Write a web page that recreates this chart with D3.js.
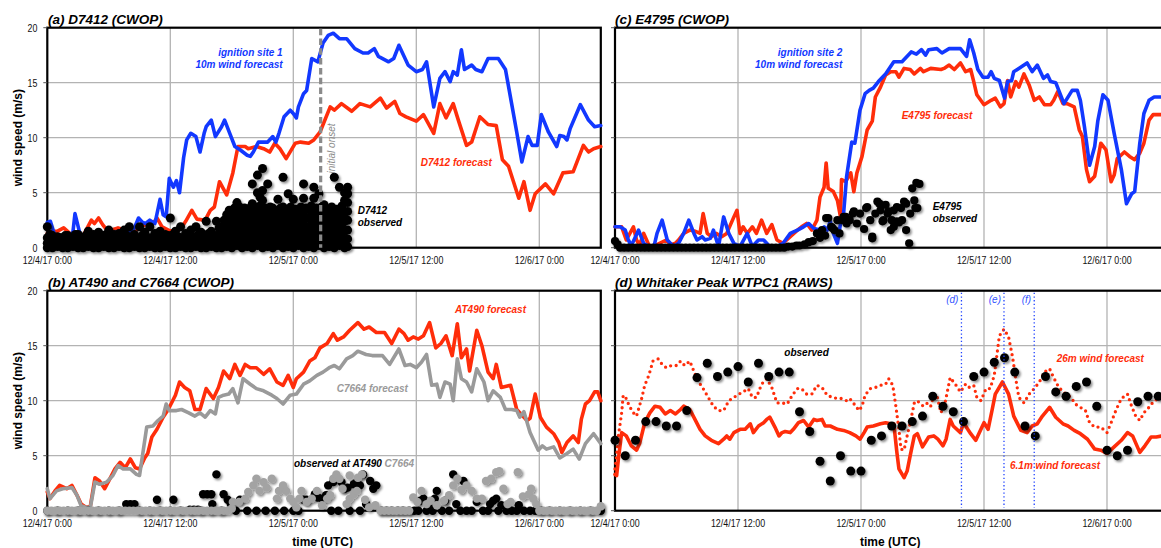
<!DOCTYPE html>
<html>
<head>
<meta charset="utf-8">
<script src="https://cdn.jsdelivr.net/npm/d3@7"></script>
<style>
  html, body { margin: 0; padding: 0; background: #fff; }
  svg { display: block; }
  text { font-family: "Liberation Sans", Arial, sans-serif; }
</style>
</head>
<body>
<svg id="chart" width="1161" height="548"></svg>
<script>
// ---------------- data ----------------
// time axis: hours after 12/4/17 0:00 UTC; speeds in m/s
const tickHours = [0, 12, 24, 36, 48];
const tickLabels = ["12/4/17 0:00", "12/4/17 12:00", "12/5/17 0:00", "12/5/17 12:00", "12/6/17 0:00"];
const speedTicks = [0, 5, 10, 15, 20];

// (a) ignition site 1, 10 m wind forecast
const ign1Forecast = [[0,2.3],[0.3,2.4],[0.8,0.9],[1.3,1.0],[2,1.0],[2.5,1.4],[2.7,3.1],[3.2,1.2],[4,1.0],[5,1.0],[6,1.1],[6.6,1.4],[7.5,1.2],[8.5,1.8],[8.9,2.7],[9.3,2.3],[9.6,2.2],[10,2.5],[10.5,2.2],[11,4.4],[11.3,3.0],[11.6,2.8],[11.9,6.3],[12.3,5.5],[12.6,6.1],[12.9,5.0],[13.3,8.2],[13.6,9.8],[14,10.4],[14.5,10.1],[14.9,8.7],[15.3,10.4],[15.5,11.0],[16,11.6],[16.4,10.1],[17,11.0],[17.3,11.6],[17.8,10.4],[18.3,9.2],[18.8,8.9],[19.5,8.4],[19.8,8.3],[20.1,8.7],[20.6,9.6],[21.5,9.6],[22,10.1],[22.3,9.6],[22.6,10.4],[23.1,11.9],[23.7,12.5],[24,12.2],[24.3,11.8],[24.5,12.8],[25,14.0],[25.3,14.3],[25.8,17.2],[26.4,16.9],[26.9,18.6],[27.4,19.3],[27.9,19.5],[28.5,19.0],[29.2,19.0],[30,18.1],[30.8,17.7],[31.3,17.7],[31.9,18.1],[32.3,17.4],[33.3,16.9],[33.8,17.2],[34.3,18.4],[35.2,16.6],[36,16.0],[36.6,16.2],[37,16.9],[37.7,12.8],[38.3,15.4],[38.8,16.0],[39.3,15.1],[39.6,16.0],[40,15.7],[40.4,18.0],[40.7,16.2],[41.4,16.6],[41.8,16.2],[42.4,16.0],[43,17.2],[44,17.2],[44.7,16.2],[45.3,13.1],[45.8,10.5],[46.3,7.8],[46.9,10.1],[47.3,9.3],[47.8,9.3],[48.2,12.1],[48.9,10.5],[49.7,9.2],[50,10.2],[50.4,10.1],[50.7,9.8],[51,10.8],[52,13.0],[52.8,11.6],[53.4,11.0],[54,11.1]];

// (a) D7412 forecast
const d7412Forecast = [[0,1.3],[0.5,1.5],[1,1.5],[1.6,1.8],[2.2,1.3],[2.8,1.0],[3.5,1.1],[4.3,2.5],[4.6,2.2],[5,2.7],[5.4,2.1],[5.9,1.5],[6.9,1.8],[8,1.5],[9,1.7],[9.5,2.1],[10.3,2.2],[10.7,2.7],[11.2,1.9],[12,1.5],[13,1.7],[13.5,2.4],[14.1,3.4],[14.6,2.6],[15.4,2.5],[15.9,3.4],[16.3,3.7],[16.8,6.0],[17.5,4.8],[18.1,6.8],[18.6,9.2],[19.3,9.2],[19.6,9.0],[20.4,9.2],[21.1,9.0],[21.7,8.7],[22.2,9.5],[22.7,9.0],[23.3,8.1],[24.2,9.5],[24.7,9.6],[25.5,9.5],[26,9.8],[26.6,10.5],[27.6,12.8],[28,12.5],[28.7,13.1],[29.7,12.4],[30.5,13.1],[31.5,12.8],[32.5,13.6],[33.1,12.7],[33.9,13.3],[34.4,12.2],[35,11.9],[36,11.5],[36.7,12.1],[37.7,10.4],[38.3,13.1],[38.9,11.8],[39.6,13.1],[40.1,11.6],[40.9,9.3],[41.4,9.6],[42.2,11.9],[43,11.2],[43.8,11.1],[44.4,8.0],[45,7.4],[46,4.5],[46.5,6.0],[47.1,3.4],[47.6,4.9],[48.6,5.8],[49.4,4.9],[50.3,6.8],[51.3,6.9],[52.3,9.3],[52.8,8.7],[53.3,9.0],[54,9.2]];

// (a) D7412 observations, grouped by report time: [hour, speeds]
const d7412Obs = [
  [0,[0,0.4,0.9,1.9]],[0.25,[0.2,0.7,1.2]],[0.5,[0,0.5,1.1]],[0.75,[0.3,0.8]],[1,[0.1,0.6,1.0]],[1.25,[0.2,0.9]],[1.5,[0,0.4,0.9]],[1.75,[0.3,1.1]],
  [2,[0,0.5,1.1]],[2.25,[0.2,0.8]],[2.5,[0.1,0.7,1.0]],[2.75,[0.3,1.2]],[3,[0,0.4,1.2]],[3.25,[0.2,0.8]],[3.5,[0,0.6,0.9]],[3.75,[0.3,1.1]],
  [4,[0.1,0.5,1.5]],[4.25,[0.2,0.9]],[4.5,[0,0.7,1.2]],[4.75,[0.3,1.0]],[5,[0,0.4,1.4]],[5.25,[0.2,0.9]],[5.5,[0.1,0.8,1.1]],[5.75,[0.3,1.2]],
  [6,[0,0.5,1.6]],[6.25,[0.2,0.9]],[6.5,[0,0.6,1.2]],[6.75,[0.3,1.0]],[7,[0.1,0.9,1.3]],[7.25,[0.2,0.7]],[7.5,[0,0.5,1.6]],[7.75,[0.3,1.1]],
  [8,[0,0.7,1.9]],[8.25,[0.2,1.0]],[8.5,[0.1,0.6,1.2]],[8.75,[0.3,0.9]],[9,[0,0.8,1.9]],[9.25,[0.2,1.1]],[9.5,[0,0.5,1.4]],[9.75,[0.3,0.9]],
  [10,[0.1,0.9,1.9]],[10.25,[0.2,0.7]],[10.5,[0,0.6,1.3]],[10.75,[0.3,1.0]],[11,[0,0.7,1.5]],[11.25,[0.2,0.9]],[11.5,[0.1,0.5,1.2]],[11.75,[0.3,1.1]],
  [12,[0,0.8,2.7]],[12.25,[0.2,1.2]],[12.5,[0,0.6,1.5]],[12.75,[0.3,1.0]],[13,[0.1,0.9,1.9]],[13.25,[0.2,0.7]],[13.5,[0,0.5,1.3]],[13.75,[0.3,1.1]],
  [14,[0,0.7,1.6]],[14.25,[0.2,1.0]],[14.5,[0.1,0.6,1.9]],[14.75,[0.3,1.2]],[15,[0,0.8,1.4]],[15.25,[0.2,1.0]],[15.5,[0,0.5,2.4]],[15.75,[0.3,1.3]],
  [16,[0.1,0.9,1.5]],[16.25,[0.2,1.1]],[16.5,[0,0.7,2.4]],[16.75,[0.3,1.2,1.8]],[17,[0,0.6,1.3,1.9]],[17.25,[0.3,1.0,1.7,2.5]],
  [17.5,[0.1,0.7,1.4,2.2,3.0]],[17.75,[0.4,1.1,1.9,2.7,3.4]],[18,[0,0.8,1.6,2.4,3.4]],[18.25,[0.3,1.2,2.0,2.8,3.6]],
  [18.5,[0.2,0.9,1.7,2.6,3.3,4.1]],[18.75,[0.4,1.3,2.1,2.9,3.7]],[19,[0,0.6,1.4,2.2,3.0,3.5]],[19.25,[0.3,1.1,1.9,2.7,3.6]],
  [19.5,[0.1,0.8,1.5,2.3,3.2]],[19.75,[0.4,1.2,2.0,2.8,3.6]],[20,[0,0.7,1.6,2.5,3.3,4.0,5.8]],[20.25,[0.3,1.1,1.9,2.9,3.7]],
  [20.5,[0.2,1.0,1.8,2.6,3.4,5.0,6.6]],[20.75,[0.4,1.3,2.2,3.0,3.8,4.6]],[21,[0,0.6,1.5,2.3,3.1,4.3,5.2,7.2]],[21.25,[0.3,1.1,1.9,2.7,3.6]],
  [21.5,[0.1,0.9,1.7,2.5,3.5,5.8]],[21.75,[0.4,1.2,2.0,2.9,3.7]],[22,[0,0.7,1.4,2.2,3.0,3.6]],[22.25,[0.3,1.1,1.8,2.6,3.4]],
  [22.5,[0.2,0.8,1.6,2.4,3.3,4.4]],[22.75,[0.4,1.2,2.0,2.8,3.6]],[23,[0,0.6,1.5,2.3,3.1,3.7,6.4]],[23.25,[0.3,1.0,1.9,2.7,3.5]],
  [23.5,[0.1,0.9,1.7,2.6,3.4,4.9]],[23.75,[0.4,1.3,2.1,2.9,3.7]],[24,[0,0.7,1.4,2.3,3.0,4.4]],[24.25,[0.3,1.1,1.9,2.7,3.5]],
  [24.5,[0.2,0.8,1.6,2.5,3.3]],[24.75,[0.4,1.2,2.0,2.9,3.7]],[25,[0,0.6,1.5,2.2,3.2,4.5,5.8]],[25.25,[0.3,1.0,1.8,2.7,3.6]],
  [25.5,[0.1,1.0,1.8,2.7,3.5]],[25.75,[0.4,1.3,2.1,2.9,3.8]],[26,[0,0.7,1.4,2.3,3.1,4.5,5.5]],[26.25,[0.3,1.1,1.9,2.7,3.6]],
  [26.5,[0.2,0.9,1.6,2.5,3.4,4.9]],[26.75,[0.4,1.2,2.0,2.9,3.7]],[27,[0,0.6,1.5,2.4,3.2,3.9]],[27.25,[0.3,1.1,1.9,2.7,3.5]],
  [27.5,[0.1,0.8,1.7,2.6,3.4]],[27.75,[0.4,1.2,2.1,2.9,3.7]],[28,[0,0.7,1.4,2.2,3.0,6.4]],[28.25,[0.3,1.1,1.9,2.7,3.5]],
  [28.5,[0.2,0.9,1.6,2.5,3.3,5.5]],[28.75,[0.4,1.3,2.1,2.9,3.8]],[29,[0,0.6,1.5,2.4,3.2,4.3,5.0]],
  [29.3,[0.1,0.8,1.6,2.5,3.3,4.1,4.9,5.5]]
];
const onsetHour = 26.67;

// (b) AT490 and C7664 forecasts
const at490Forecast = [[0,1.7],[0.26,1.1],[0.75,1.8],[1.2,2.3],[1.9,2.0],[2.4,2.3],[2.9,1.4],[3.3,0.6],[3.8,0.3],[4.2,0.4],[4.65,3.0],[5.1,2.7],[5.6,2.0],[6.1,2.9],[6.6,3.8],[7.1,4.4],[7.6,3.9],[8.1,4.7],[8.6,3.9],[9,3.8],[9.5,4.8],[9.8,5.2],[10.2,6.7],[10.7,7.4],[11.3,8.5],[11.8,9.2],[12.5,10.5],[12.9,11.7],[13.4,11.2],[13.9,10.9],[14.4,9.2],[14.9,9.2],[15.5,11.1],[16.2,10.2],[16.7,11.2],[17.2,12.7],[17.8,12.0],[18.3,13.3],[18.8,12.3],[19.3,13.3],[19.8,13.0],[20.4,13.0],[21.1,12.4],[21.7,12.9],[22.4,11.7],[23,11.4],[23.5,12.3],[24,11.2],[24.3,12.0],[25,12.6],[25.6,13.6],[26.1,13.9],[26.6,14.8],[27.3,15.2],[27.9,16.1],[28.3,15.5],[28.9,15.8],[29.5,16.4],[30.3,17.1],[30.9,16.5],[31.4,16.7],[32.1,16.2],[32.9,16.2],[33.6,15.2],[34.3,16.5],[34.8,16.1],[35.2,15.5],[35.7,15.8],[36.2,15.6],[36.7,15.9],[37.3,17.1],[37.9,14.8],[38.4,15.2],[38.9,15.9],[39.5,14.1],[40,17.0],[40.4,13.9],[40.9,14.7],[41.2,12.7],[41.9,16.4],[42.4,15.0],[43,12.6],[43.5,12.0],[43.8,13.3],[44.3,11.2],[45.2,11.4],[45.8,9.2],[46.5,8.5],[46.8,8.2],[47.1,8.4],[47.6,10.6],[48.1,8.5],[48.7,7.6],[49.4,7.0],[49.9,6.2],[50.2,5.3],[50.7,6.2],[51.3,6.8],[51.8,6.2],[52.1,8.3],[52.5,9.7],[52.9,10.0],[53.4,10.8],[53.7,10.8],[54,10.0]];
const c7664Forecast = [[0,2.0],[0.26,1.1],[0.9,1.8],[1.5,2.0],[2.4,2.1],[2.9,1.4],[3.3,0.45],[3.8,0.3],[4.2,0.3],[4.65,2.6],[5.1,2.4],[5.8,2.6],[6.4,3.2],[6.9,4.1],[7.4,3.8],[8.1,3.8],[8.7,3.3],[9,3.2],[9.7,7.6],[10.3,7.7],[10.8,8.2],[11.3,8.6],[11.6,9.7],[11.9,9.1],[12.6,9.1],[13.1,9.2],[13.8,8.9],[14.4,8.6],[14.9,8.9],[15.4,8.5],[15.9,9.1],[16.4,8.8],[16.7,10.3],[17.2,10.5],[17.7,10.6],[18.1,11.1],[18.6,9.8],[19.1,12.0],[19.8,11.5],[20.4,11.1],[21.1,10.9],[21.9,10.5],[22.4,10.2],[23,9.7],[23.7,10.5],[24.3,10.6],[25,11.5],[25.6,11.8],[26.3,12.3],[26.9,12.6],[27.5,13.0],[28,13.2],[28.5,12.9],[29.2,13.8],[29.8,14.1],[30.3,14.5],[31.1,14.2],[31.7,14.1],[32.7,14.1],[33.4,13.3],[34.3,14.7],[34.9,13.2],[35.4,13.3],[36,13.0],[36.5,13.5],[37,14.2],[37.5,11.4],[38,11.5],[38.3,10.3],[38.8,11.7],[39.3,11.5],[39.6,10.0],[40,13.8],[40.4,12.0],[40.9,11.7],[41.4,10.8],[41.9,12.9],[42.6,11.7],[43,10.0],[43.5,10.9],[44.2,10.3],[44.7,9.2],[45.3,9.2],[45.8,9.1],[46.1,8.5],[46.5,9.0],[47.1,7.1],[47.4,6.5],[47.9,5.5],[48.3,5.9],[48.7,5.6],[49.4,5.8],[50,4.8],[50.7,5.2],[51.3,5.6],[51.9,4.7],[52.5,6.1],[53.3,7.0],[54,6.1]];

// (b) observations at AT490 (black) and C7664 (gray): [hour, speed]
const at490Obs = [[0,0],[1,0],[2,0],[3,0],[4,0],[5,0],[6,0],[7,0],[9,0],[10,0],[11,0],[12,0],[13,0],[14,0],[15,0],[16,0],[17,0],
  [7.7,0.6],[8.1,0.6],[8.5,0.6],[10.7,1.0],[12.3,1.0],[13.9,0.1],[14.3,0.1],[14.7,0.1],[15.2,1.5],[15.6,1.5],[16.0,1.5],[16.5,3.3],[16.1,0.6],[17.2,1.5],[17.6,1.0],[17.9,0.6],[18.8,1.0],
  [18.4,0],[19.5,0],[20.4,0],[21.3,0],[22.2,0],[23.1,0],[24.0,0],[24.5,0],[27.7,0],[28.4,0],[29.5,0],[30.5,0],
  [25.0,1.0],[25.3,1.0],[26.1,1.5],[26.4,1.2],[26.8,1.1],[27.2,1.4],[27.4,2.3],[27.9,2.6],[28.7,2.6],[29.0,2.0],[29.3,2.1],[29.9,2.4],[30.2,2.6],[30.5,2.3],[30.8,3.3],[31.1,0.6],[31.5,2.7],[31.8,2.0],[32.1,2.3],
  [32.6,0],[33.1,0],[33.6,0],[34.2,0],[34.7,0],[35.3,0],[35.8,0],[36.2,0],[37.0,0],[37.6,0],[38.5,0],[39.2,0],[40.3,0],[40.9,0],[41.4,0],[42.5,0],[43.0,0],[44.0,0],[44.8,0],[45.3,0],[45.8,0],[46.5,0],[47.1,0],[47.6,0],[48.2,0],[49,0],[50,0],[51,0],[52,0],[53,0],[54,0],
  [36.4,0.9],[36.7,1.1],[37.3,0.3],[37.8,1.1],[38.0,1.8],[38.8,0.9],[39.6,3.3],[39.9,0.6],[40.6,2.7],[41.9,0.8],[43.2,0.6],[43.5,0.9],[43.8,1.1],[44.3,0.5],[46.0,0.5]];
const c7664Obs = [[0,0],[0.4,0],[0.8,0],[1.2,0],[1.6,0],[2,0],[2.4,0],[2.8,0],[3.2,0],[3.6,0],[4,0],[4.4,0],[4.8,0],[5.2,0],[5.6,0],[6,0],[6.4,0],[6.8,0],[7.2,0],[7.6,0],[8,0],[8.4,0],[8.8,0],[9.2,0],[9.6,0],[10,0],[10.4,0],[10.8,0],[11.2,0],[11.6,0],[12,0],[12.4,0],[12.8,0],[13.2,0],[13.6,0],[14,0],[14.4,0],[14.8,0],[15.2,0],[15.6,0],[16,0],[16.4,0],[16.8,0],[17.2,0],[17.6,0],[18,0.2],
  [18.1,0.8],[18.7,0.8],[19.3,1.1],[19.6,1.7],[20.1,2.3],[20.4,2.9],[20.7,1.8],[21.1,2.6],[21.4,2.1],[21.9,2.9],[22.4,1.1],[22.6,1.8],[23.0,2.3],[23.3,1.8],[23.7,1.1],[24.0,0.8],[24.3,0.3],[24.6,1.1],[24.8,1.8],[25.3,0.8],[25.8,1.1],[26.3,1.8],[26.8,0.5],[27.3,1.1],[27.6,1.4],[27.9,2.9],[28.2,3.3],[28.5,2.9],[28.8,2.0],[29.2,0.6],[29.5,1.1],[29.5,3.2],[29.9,1.5],[30.2,1.8],[30.3,3.0],[30.7,3.3],[31.0,1.0],[31.4,0.3],[32.0,0.5],
  [32.5,0],[32.9,0],[33.3,0],[33.7,0],[34.1,0],[34.5,0],[34.9,0],[35.3,0],
  [35.7,1.2],[36.1,0.8],[36.5,1.8],[37.0,0.6],[37.4,0.9],[38.0,0.5],[38.7,0.9],[39.2,1.4],[39.6,2.3],[40.0,2.9],[40.4,1.9],[40.9,2.3],[41.4,1.8],[41.9,1.1],[42.4,1.1],[42.8,2.7],[43.3,2.9],[43.8,3.5],[44.1,3.6],[44.5,2.0],[44.9,0.6],[45.2,0.8],[45.9,3.5],[46.4,1.3],[47.0,1.5],[47.2,2.0],[47.4,1.1],[47.7,0.6],
  [48,0],[48.4,0],[48.8,0],[49.2,0],[49.6,0],[50,0],[50.4,0],[50.8,0],[51.2,0],[51.6,0],[52,0],[52.4,0],[52.8,0],[53.2,0],[53.6,0],[54,0.4]];

// (c) ignition site 2, 10 m wind forecast, and E4795 forecast
const ign2Forecast = [[0,1.9],[0.5,1.9],[1,1.6],[1.3,0.7],[1.6,0.2],[2,1.0],[2.3,1.6],[2.8,0.4],[3.3,0.1],[3.8,0.1],[4.1,1.3],[4.6,2.5],[5.1,0.7],[5.7,0.1],[6.2,0.4],[6.7,1.3],[7.2,2.5],[7.7,1.3],[8,0.7],[8.5,1.0],[8.8,0.7],[9.3,0.85],[9.6,1.6],[10.1,0.1],[10.6,2.8],[11.1,1.3],[11.6,0.4],[12.2,0.1],[12.9,1.3],[13.4,0.1],[14,0.7],[14.5,0.7],[15.1,0.1],[15.8,0.1],[16.4,0.4],[17.1,1.3],[17.8,1.6],[18.4,1.9],[18.9,2.2],[19.4,1.75],[20,1.6],[20.4,1.9],[20.7,1.6],[21,2.4],[21.3,1.3],[21.7,0.4],[22,2.2],[22.3,3.1],[22.6,6.5],[23.1,9.6],[23.4,9.5],[23.9,12.5],[24.4,14.0],[24.8,14.3],[25.2,14.5],[25.7,15.1],[26.4,15.8],[27.2,16.9],[28,16.9],[28.9,17.8],[29.4,17.6],[29.9,18.0],[30.3,17.5],[30.6,18.0],[31.4,18.1],[31.9,17.7],[32.6,18.1],[33.7,18.1],[34.3,17.4],[34.6,18.9],[35,17.7],[35.4,16.2],[35.9,15.5],[36.4,15.5],[36.7,16.0],[37,15.4],[37.5,15.2],[38,13.6],[38.3,15.1],[38.7,15.2],[38.9,16.0],[39.4,16.3],[40.2,16.8],[40.7,16.0],[41.2,16.6],[41.8,15.4],[42.2,15.7],[42.5,15.1],[43,15.0],[43.8,13.1],[44.6,14.3],[45.1,14.3],[45.4,13.4],[45.8,11.0],[46.3,7.5],[46.8,9.2],[47.1,11.5],[47.6,13.9],[48.1,13.4],[48.7,10.4],[49.4,7.1],[49.9,4.0],[50.4,4.9],[50.7,5.1],[51.2,9.5],[51.6,12.2],[52.1,13.4],[52.6,13.7],[53.3,13.7],[54,13.7]];
const e4795Forecast = [[0,1.9],[0.65,1.9],[1.1,0.7],[1.8,1.9],[2.1,0.7],[2.4,0.25],[2.8,1.3],[3.3,0.25],[3.7,0.1],[5.0,0.7],[5.4,0.25],[5.9,0.4],[6.2,0.7],[6.7,1.3],[7.3,1.6],[7.8,1.5],[8.3,1.3],[8.6,3.1],[9.0,1.3],[9.4,1.0],[9.9,1.3],[10.4,1.0],[10.9,1.3],[11.6,2.8],[11.9,3.4],[12.2,1.3],[12.5,1.9],[12.9,1.3],[13.4,1.9],[13.8,1.3],[14.3,2.5],[14.8,1.3],[15.3,2.1],[15.8,0.7],[16.4,0.4],[17.1,1.0],[17.8,1.6],[18.2,1.9],[18.7,2.2],[19.2,1.6],[19.7,2.5],[20.0,4.6],[20.4,5.5],[20.6,7.7],[20.8,5.4],[21.3,5.1],[21.7,4.3],[22.0,2.8],[22.1,6.2],[22.5,6.0],[23.0,6.8],[23.3,5.1],[23.6,6.8],[24.1,8.3],[24.6,10.7],[25.1,11.5],[25.4,13.7],[25.9,14.6],[26.4,15.7],[26.9,16.0],[27.4,16.0],[27.7,15.5],[28.2,16.3],[28.8,16.2],[29.2,15.8],[29.8,16.3],[30.1,16.0],[30.8,16.3],[31.8,16.2],[32.1,16.3],[32.6,16.6],[33.1,16.2],[33.7,16.8],[34.2,16.0],[34.7,16.2],[35.0,15.1],[35.3,13.9],[36.0,13.0],[36.7,13.4],[37.1,13.6],[37.6,12.8],[37.96,13.1],[38.3,15.2],[38.6,13.7],[39.1,15.1],[39.4,14.6],[39.9,15.8],[40.4,14.8],[40.9,13.4],[41.4,13.7],[41.9,13.0],[42.5,13.0],[42.8,13.4],[43.2,14.2],[43.7,13.1],[44.1,13.1],[44.8,12.8],[45.3,10.7],[45.6,10.1],[46.0,7.1],[46.3,6.0],[46.8,6.5],[47.4,9.5],[47.9,8.9],[48.4,6.0],[48.7,6.6],[49.0,8.1],[49.7,8.7],[50.2,8.3],[50.7,8.0],[51.2,8.6],[51.6,9.5],[52.1,11.6],[52.5,12.1],[53.3,12.1],[54,12.1]];

// (c) E4795 observations: [hour, speed]
const e4795Obs = [[0,0.6],[0.25,0.3],[0.5,0],[0.9,0],[1.3,0],[1.7,0],[2.1,0],[2.5,0],[2.9,0],[3.3,0],[3.7,0],[4.1,0],[4.5,0],[4.9,0],[5.3,0],[5.7,0],[6.1,0],[6.5,0],[6.9,0],[7.3,0],[7.7,0],[8.1,0],[8.5,0],[8.9,0],[9.3,0],[9.7,0],[10.1,0],[10.5,0],[10.9,0],[11.3,0],[11.7,0],[12.1,0],[12.5,0],[12.9,0],[13.3,0],[13.7,0],[14.1,0],[14.5,0],[14.9,0],[15.3,0],[15.7,0],[16.1,0],[16.5,0],[16.9,0.1],[17.3,0.1],[17.7,0.2],
  [18.0,0.2],[18.5,0.3],[18.9,0.5],[19.3,0.6],[19.7,1.3],[20.0,0.9],[20.2,1.6],[20.5,1.1],[20.6,2.7],[20.8,2.7],[21.1,1.9],[21.2,1.8],[21.4,1.6],[21.7,2.5],[21.9,1.3],[22.2,2.5],[22.3,2.8],[22.5,2.8],[22.6,2.2],[22.9,2.5],[23.2,3.1],[23.3,3.3],[23.6,2.2],[23.9,3.1],[24.3,1.7],[24.5,3.6],[24.6,3.7],[24.9,2.5],[25.1,1.0],[25.1,0.85],[25.4,3.1],[25.6,4.2],[25.8,4.0],[25.9,3.4],[26.1,2.4],[26.2,2.5],[26.4,3.9],[26.6,3.1],[26.7,3.3],[26.9,1.6],[27.0,2.5],[27.2,3.4],[27.2,1.9],[27.5,3.7],[27.5,2.4],[27.7,2.3],[27.9,3.6],[28.0,2.5],[28.2,4.2],[28.4,4.0],[28.4,1.6],[28.7,0.4],[28.8,3.1],[29.0,5.4],[29.2,4.3],[29.3,3.6],[29.4,5.9],[29.5,3.6],[29.7,5.8]];

// (d) Whitaker Peak WTPC1 forecasts at 6.1 m and 26 m, and hourly observations
const wtpc6mForecast = [[0,3.3],[0.16,3.2],[0.33,4.7],[0.65,7.1],[1.1,6.8],[1.6,5.9],[2.1,5.5],[2.4,6.1],[2.9,8.0],[3.4,8.9],[3.9,9.5],[4.4,9.4],[4.9,8.8],[5.4,9.1],[5.9,8.8],[6.4,9.2],[6.7,9.5],[7.3,9.2],[7.8,8.3],[8.3,7.4],[8.8,6.8],[9.4,6.4],[10.1,6.1],[10.6,6.5],[10.9,6.8],[11.2,6.5],[11.6,7.1],[12.2,7.4],[12.7,7.4],[13.2,7.9],[13.5,7.1],[14.0,7.7],[14.5,8.0],[14.8,8.3],[15.1,8.5],[15.6,7.6],[16.0,6.8],[16.3,7.1],[16.6,7.2],[17.1,7.1],[17.4,7.4],[17.9,8.0],[18.4,8.2],[18.9,7.6],[19.4,8.3],[19.7,8.2],[20.2,8.3],[20.5,7.7],[21.0,7.7],[21.7,7.4],[22.3,7.3],[22.9,7.1],[23.5,6.8],[23.9,6.5],[24.3,7.1],[24.6,7.6],[25.2,7.7],[25.9,7.9],[26.4,8.0],[26.9,7.9],[27.2,7.9],[27.5,5.3],[27.7,3.8],[28.2,3.0],[28.5,3.6],[28.8,5.0],[29.2,6.8],[29.5,7.0],[30.0,5.8],[30.6,6.7],[31.1,6.8],[31.5,6.5],[32.0,5.9],[32.3,6.5],[32.7,8.3],[33.0,7.7],[33.7,7.1],[34.0,8.0],[34.7,7.0],[35.2,6.4],[35.7,7.4],[36.0,8.0],[36.4,7.4],[36.8,9.2],[37.1,10.6],[37.8,11.7],[38.4,10.6],[38.9,8.6],[39.6,7.3],[40.2,7.1],[40.7,7.7],[41.2,7.9],[41.7,8.6],[42.4,9.4],[43.0,8.5],[43.7,7.9],[44.2,7.7],[44.8,7.3],[45.4,7.0],[46.1,6.5],[46.8,5.6],[47.4,5.5],[48.0,5.2],[48.7,5.8],[49.4,6.4],[50.0,7.1],[50.5,6.8],[51.2,5.3],[51.7,5.9],[52.3,6.7],[52.8,6.7],[53.4,6.8],[54,6.8]];
const wtpc26mForecast = [[0,3.8],[0.16,5.0],[0.33,6.8],[0.65,8.9],[0.8,10.5],[1.1,10.2],[1.4,9.5],[1.8,8.9],[2.1,8.6],[2.6,10.2],[2.9,11.4],[3.3,12.3],[3.7,13.6],[4.2,13.8],[4.6,13.3],[5.0,13.0],[5.5,13.2],[6.0,13.2],[6.4,13.6],[6.8,13.2],[7.3,13.6],[7.6,12.9],[8.1,11.8],[8.6,11.1],[9.1,10.3],[9.6,9.5],[10.1,9.1],[10.6,9.1],[11.1,10.0],[11.6,10.3],[12.1,10.6],[12.5,10.8],[13.0,11.1],[13.4,10.3],[13.8,10.3],[14.3,11.5],[14.8,12.0],[15.3,11.2],[15.8,9.8],[16.3,9.8],[16.8,9.7],[17.3,10.5],[17.8,11.1],[18.2,11.1],[18.7,10.6],[19.2,10.6],[19.7,11.4],[20.2,11.2],[20.7,10.5],[21.2,10.3],[21.7,10.2],[22.1,10.2],[22.6,10.0],[22.9,10.2],[23.5,9.5],[23.8,9.1],[24.1,9.5],[24.4,10.5],[24.9,11.1],[25.4,11.2],[25.9,11.4],[26.4,11.5],[26.7,12.0],[27.1,11.4],[27.4,9.5],[27.7,7.4],[27.9,5.6],[28.2,5.5],[28.5,6.8],[28.8,8.0],[29.2,9.8],[29.5,10.0],[29.8,9.7],[30.1,9.5],[30.5,9.8],[30.8,9.5],[31.1,10.5],[31.4,10.5],[31.8,8.9],[32.2,9.8],[32.7,12.1],[33.2,11.5],[33.7,10.8],[34.2,11.5],[34.5,11.2],[35.0,11.4],[35.3,10.3],[35.7,10.0],[36.2,11.1],[36.6,11.1],[37.0,12.3],[37.5,15.9],[37.96,16.5],[38.4,15.8],[38.8,13.9],[39.1,12.0],[39.4,10.3],[39.9,9.8],[40.4,10.6],[40.9,11.1],[41.4,11.7],[41.9,12.6],[42.4,12.9],[42.8,12.1],[43.3,11.2],[44.0,10.6],[44.5,10.3],[44.9,9.7],[45.4,9.4],[45.9,9.1],[46.3,8.0],[46.8,7.6],[47.4,7.6],[48.0,7.1],[48.4,8.0],[48.9,9.2],[49.4,10.2],[50.0,10.6],[50.4,9.5],[50.8,8.6],[51.2,8.2],[51.6,8.9],[52.1,9.4],[52.6,10.0],[53.1,10.2],[54,10.3]];
const wtpcObsHours = [0,1,2,3,4,5,6,7,8,9,10,11,12,13,14,15,16,17,18,19,20,21,22,23,24,25,26,27,28,29,30,31,32,33,34,35,36,37,38,39,40,41,42,43,44,45,46,47,48,49,50,51,52,53];
const wtpcObsSpeed = [6.4,5.0,6.4,8.1,8.1,7.7,7.7,9.1,12.1,13.4,12.2,12.6,13.1,11.7,13.4,12.2,12.6,12.6,9.0,7.2,4.5,2.7,5.0,3.6,3.6,6.4,6.8,7.7,7.7,8.1,8.6,10.4,9.5,9.0,8.1,12.2,12.6,13.5,13.9,12.6,7.7,6.8,12.2,10.8,10.4,11.3,11.7,9.5,5.5,5.0,5.5,9.9,10.4,10.4];
const eventHours = [33.8, 37.95, 40.9];
const eventLabels = ["(d)", "(e)", "(f)"];

// ---------------- drawing ----------------
const W = 1161, H = 548;
const BLUE = "#1238ff", RED = "#ff2d0a", GRAY = "#9a9a9a", GRAYDOT = "#a3a3a3";
const svg = d3.select("#chart");
svg.append("rect").attr("width", W).attr("height", H).attr("fill", "#fff");

const defs = svg.append("defs");
defs.append("filter").attr("id", "dotShadow")
  .attr("filterUnits", "userSpaceOnUse").attr("x", 0).attr("y", 0).attr("width", W).attr("height", H)
  .append("feDropShadow").attr("dx", 1.6).attr("dy", 1.8).attr("stdDeviation", 1.3)
  .attr("flood-color", "#000").attr("flood-opacity", 0.45);

const HOURS = 54, PX_PER_H = 10.25, PLOT_H = 220;

function makePanel(left, top, yLabels) {
  const x = d3.scaleLinear().domain([0, HOURS]).range([left, left + HOURS * PX_PER_H]);
  const y = d3.scaleLinear().domain([0, 20]).range([top + PLOT_H, top]);
  const g = svg.append("g");
  const p = { x, y, g, left, top, right: left + HOURS * PX_PER_H, bottom: top + PLOT_H };

  // gridlines
  g.append("g").selectAll("line").data(tickHours.slice(1)).join("line")
    .attr("x1", d => x(d)).attr("x2", d => x(d)).attr("y1", p.top).attr("y2", p.bottom)
    .attr("stroke", "#b3b3b3").attr("stroke-width", 1.3);
  g.append("g").selectAll("line").data(speedTicks.slice(1, -1)).join("line")
    .attr("x1", p.left).attr("x2", p.right).attr("y1", d => y(d)).attr("y2", d => y(d))
    .attr("stroke", "#b3b3b3").attr("stroke-width", 1.3);
  // frame
  g.append("rect").attr("x", p.left).attr("y", p.top)
    .attr("width", p.right - p.left).attr("height", PLOT_H)
    .attr("fill", "none").attr("stroke", "#000").attr("stroke-width", 2.2);
  // y ticks
  g.append("g").selectAll("line").data(speedTicks).join("line")
    .attr("x1", p.left - 4).attr("x2", p.left).attr("y1", d => y(d)).attr("y2", d => y(d))
    .attr("stroke", "#555").attr("stroke-width", 1);
  // x tick labels
  g.append("g").selectAll("text").data(tickHours).join("text")
    .attr("transform", d => `translate(${x(d)},${p.bottom + 15.8}) scale(0.77,1)`)
    .attr("text-anchor", "middle").attr("font-size", 11.5).attr("fill", "#111")
    .text((d, i) => tickLabels[i]);
  if (yLabels) {
    g.append("g").selectAll("text").data(speedTicks).join("text")
      .attr("transform", d => `translate(${p.left - 10},${y(d) + 4}) scale(0.77,1)`)
      .attr("text-anchor", "end").attr("font-size", 11.5).attr("fill", "#111")
      .text(d => d);
  }
  return p;
}

function drawLine(p, data, color, width, dash) {
  const line = d3.line().x(d => p.x(d[0])).y(d => p.y(d[1]));
  const path = p.g.append("path").datum(data).attr("d", line)
    .attr("fill", "none").attr("stroke", color).attr("stroke-width", width)
    .attr("stroke-linejoin", "round").attr("stroke-linecap", "round");
  if (dash) path.attr("stroke-dasharray", dash);
  return path;
}

function drawDots(p, data, color, r) {
  p.g.append("g").attr("filter", "url(#dotShadow)")
    .selectAll("circle").data(data).join("circle")
    .attr("cx", d => p.x(d[0])).attr("cy", d => p.y(d[1]))
    .attr("r", r).attr("fill", color);
}

function note(p, xPos, yPos, lines, color, anchor) {
  const t = p.g.append("text").attr("x", xPos).attr("y", yPos)
    .attr("font-size", 10).attr("font-weight", "bold").attr("font-style", "italic")
    .attr("fill", color).attr("text-anchor", anchor || "start");
  lines.forEach((s, i) => t.append("tspan").attr("x", xPos).attr("dy", i === 0 ? 0 : 12).text(s));
  return t;
}

function title(xPos, yPos, s) {
  svg.append("text").attr("x", xPos).attr("y", yPos)
    .attr("font-size", 13.5).attr("font-weight", "bold").attr("font-style", "italic")
    .attr("fill", "#000").text(s);
}

const pA = makePanel(47.3, 27.7, true);
const pB = makePanel(47.3, 290.7, true);
const pC = makePanel(615, 27.7, false);
const pD = makePanel(615, 290.7, false);

// (a)
drawLine(pA, d7412Forecast, RED, 3.6);
drawLine(pA, ign1Forecast, BLUE, 3.6);
drawDots(pA, d7412Obs.flatMap(([h, vs]) => vs.map(v => [h, v])), "#000", 4.5);
pA.g.append("line").attr("x1", pA.x(onsetHour)).attr("x2", pA.x(onsetHour))
  .attr("y1", pA.top + 1).attr("y2", pA.bottom)
  .attr("stroke", "#8a8a8a").attr("stroke-width", 3.2).attr("stroke-dasharray", "6.5 3.3");
pA.g.append("text").attr("transform", `translate(${pA.x(onsetHour) + 14},173.5) rotate(-90)`)
  .attr("font-size", 10).attr("font-style", "italic").attr("fill", "#8a8a8a").text("initial onset");
note(pA, 282.7, 55.5, ["ignition site 1", "10m wind forecast"], BLUE, "end");
note(pA, 420.7, 165.5, ["D7412 forecast"], RED);
note(pA, 357.7, 213.5, ["D7412", "observed"], "#000");

// (b)
drawLine(pB, at490Forecast, RED, 3.6);
drawLine(pB, c7664Forecast, GRAY, 3.6);
drawDots(pB, at490Obs, "#000", 4.2);
drawDots(pB, c7664Obs, GRAYDOT, 4.2);
note(pB, 455, 313.3, ["AT490 forecast"], RED);
note(pB, 336.7, 392.3, ["C7664 forecast"], GRAY);
const obsNote = note(pB, 294, 466.7, ["observed at AT490 "], "#000");
obsNote.append("tspan").attr("fill", GRAY).text("C7664");

// (c)
drawLine(pC, e4795Forecast, RED, 3.6);
drawLine(pC, ign2Forecast, BLUE, 3.6);
drawDots(pC, e4795Obs, "#000", 4.1);
note(pC, 842.3, 55.5, ["ignition site 2", "10m wind forecast"], BLUE, "end");
note(pC, 901.7, 119, ["E4795 forecast"], RED);
note(pC, 932.7, 210, ["E4795", "observed"], "#000");

// (d)
drawLine(pD, wtpc6mForecast, RED, 3.6);
drawLine(pD, wtpc26mForecast, RED, 3.3, "0 5.6");
drawDots(pD, wtpcObsHours.map((h, i) => [h, wtpcObsSpeed[i]]), "#000", 4.5);
eventHours.forEach((h, i) => {
  const ex = pD.x(h);
  pD.g.append("line").attr("x1", ex).attr("x2", ex).attr("y1", pD.top + 2).attr("y2", pD.bottom - 3)
    .attr("stroke", "#2244ff").attr("stroke-width", 1.3).attr("stroke-dasharray", "1.3 2.4");
  pD.g.append("text").attr("x", ex - 3).attr("y", 303.3).attr("text-anchor", "end")
    .attr("font-size", 10).attr("font-style", "italic").attr("fill", "#3355ff").text(eventLabels[i]);
});
note(pD, 784.3, 356, ["observed"], "#000");
note(pD, 1056.7, 362.3, ["26m wind forecast"], RED);
note(pD, 1010, 469.3, ["6.1m wind forecast"], RED);

// titles and axis names
title(48, 23.5, "(a) D7412 (CWOP)");
title(48, 286.5, "(b) AT490 and C7664 (CWOP)");
title(615, 23.5, "(c) E4795 (CWOP)");
title(615, 286.5, "(d) Whitaker Peak WTPC1 (RAWS)");

[pA, pB].forEach(p => {
  svg.append("text").attr("transform", `translate(22,${(p.top + p.bottom) / 2}) rotate(-90)`)
    .attr("text-anchor", "middle").attr("font-size", 12).attr("font-weight", "bold")
    .attr("fill", "#000").text("wind speed (m/s)");
});
[pB, pD].forEach(p => {
  svg.append("text").attr("x", p === pB ? 322.7 : 890.3).attr("y", 545.5)
    .attr("text-anchor", "middle").attr("font-size", 12).attr("font-weight", "bold")
    .attr("fill", "#000").text("time (UTC)");
});
</script>
</body>
</html>
